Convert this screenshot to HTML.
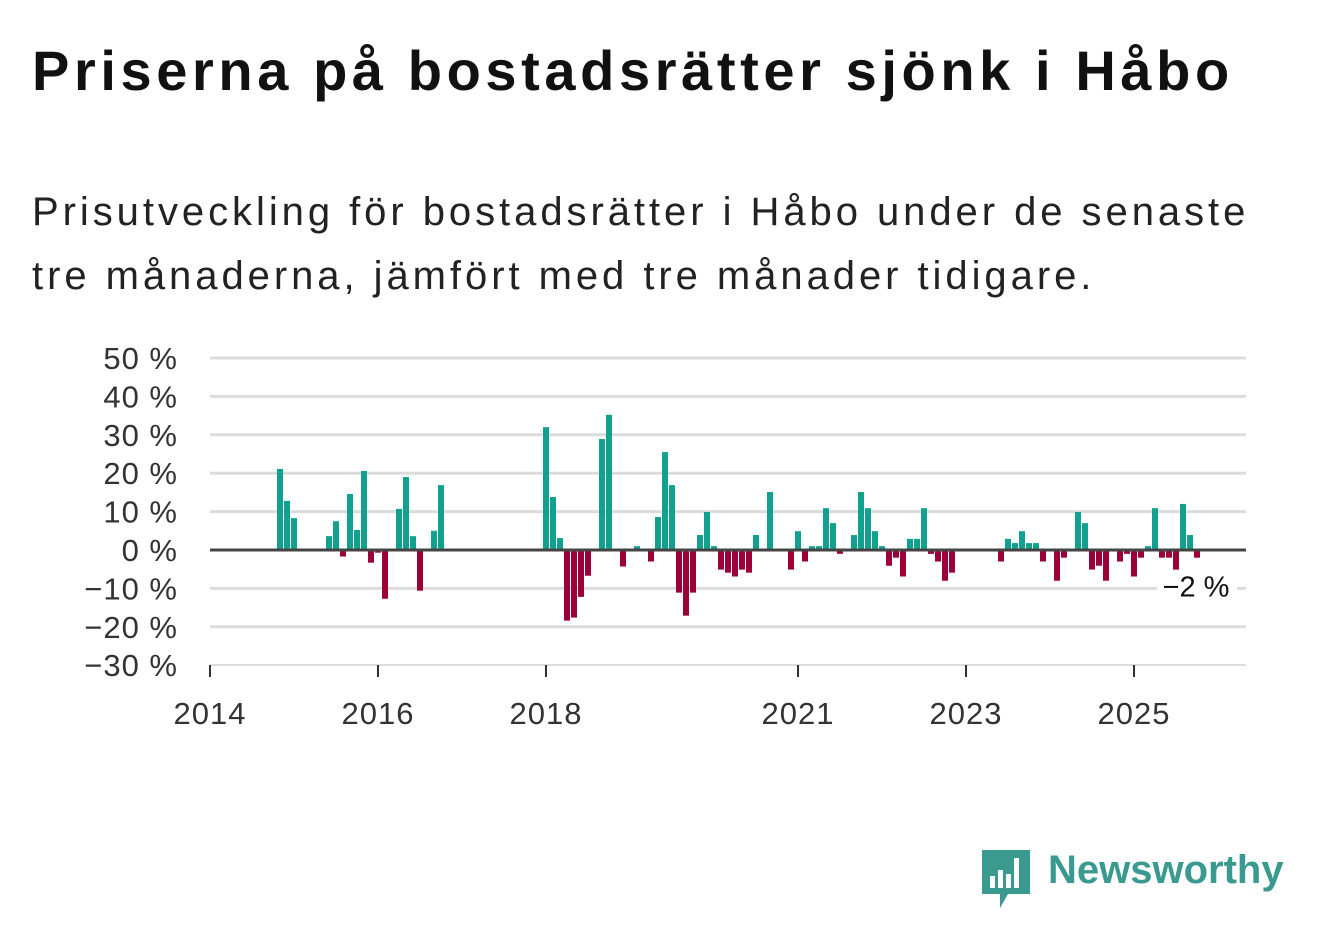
<!DOCTYPE html>
<html><head><meta charset="utf-8"><style>
body{margin:0;background:#fff;width:1322px;height:939px;overflow:hidden;font-family:"Liberation Sans","DejaVu Sans",sans-serif}
</style></head><body>
<div style="position:absolute;left:32px;top:38px;font-size:56px;font-weight:bold;color:#111;letter-spacing:4.6px;white-space:nowrap">Priserna på bostadsrätter sjönk i Håbo</div>
<div style="position:absolute;left:32px;top:180px;font-size:40px;line-height:64px;color:#222;letter-spacing:3.95px;white-space:nowrap">Prisutveckling för bostadsrätter i Håbo under de senaste<br>tre månaderna, jämfört med tre månader tidigare.</div>
<svg id="chart" width="1322" height="939" style="position:absolute;left:0;top:0"></svg>
<div style="position:absolute;left:982px;top:850px;">
<svg width="48" height="58"><path d="M0 0H48V44H26L18 58V44H0Z" fill="#3a9a8f"/><rect x="8" y="26" width="5" height="12" fill="#fff"/><rect x="16" y="20" width="5" height="18" fill="#fff"/><rect x="24" y="24" width="5" height="14" fill="#fff"/><rect x="32" y="8" width="5" height="30" fill="#fff"/></svg>
</div>
<div style="position:absolute;left:1048px;top:848px;font-size:40px;font-weight:bold;color:#3a9a8f">Newsworthy</div>
<script>
const yTicks=[50,40,30,20,10,0,-10,-20,-30];
const yTickLabels=["50 %","40 %","30 %","20 %","10 %","0 %","−10 %","−20 %","−30 %"];
const xTickYears=[2014,2016,2018,2021,2023,2025];
const changes={10:21.1,11:12.8,12:8.3,17:3.6,18:7.5,19:-1.7,20:14.6,21:5.2,22:20.6,23:-3.3,24:-0.7,25:-12.7,27:10.7,28:19,29:3.6,30:-10.6,32:5,33:16.9,
48:32,49:13.8,50:3.1,51:-18.4,52:-17.6,53:-12.2,54:-6.7,56:28.9,57:35.2,59:-4.3,61:1,63:-3,64:8.6,65:25.5,66:16.9,67:-11.1,68:-17.1,69:-11.1,70:3.9,71:9.9,72:1,73:-5.1,74:-5.9,75:-6.9,76:-5.1,77:-5.9,78:3.9,80:15.1,
83:-5.1,84:4.9,85:-3,86:1,87:1,88:10.9,89:7,90:-1,92:3.9,93:15.1,94:10.9,95:4.9,96:1,97:-4.1,98:-2,99:-6.9,100:2.9,101:2.9,102:10.9,103:-1,104:-3,105:-8,106:-5.9,
113:-3,114:2.9,115:1.8,116:4.9,117:1.8,118:1.8,119:-3,121:-8,122:-2,124:9.9,125:7,126:-5.1,127:-4.1,128:-8,130:-3,131:-1,132:-6.9,133:-2,134:1,135:10.9,136:-2,137:-2,138:-5.6,139:12,140:3.9,141:-2};
const monthCount=142;
const lastLabel="−2 %";
const NS="http://www.w3.org/2000/svg";
const svg=document.getElementById('chart');
const x0=210,x1=1246;
const yScale=v=>550-v*3.84;
const xMonth=i=>x0+i*7;
const xYear=y=>x0+(y-2014)*84;
function mk(t,a){const e=document.createElementNS(NS,t);for(const k in a)e.setAttribute(k,a[k]);svg.appendChild(e);return e;}
yTicks.forEach((v,i)=>{
 if(v!==0&&v!==-30){const g=mk('line',{x1:x0,x2:x1,y1:yScale(v),y2:yScale(v),stroke:'#dcdcdc','stroke-width':3});
 
 }
 const t=mk('text',{x:178,y:yScale(v)+11,'text-anchor':'end','font-size':31,fill:'#333','letter-spacing':1});
 t.textContent=yTickLabels[i];
 
 
});
const ax=mk('line',{x1:x0,x2:x1,y1:665,y2:665,stroke:'#ddd','stroke-width':2});


xTickYears.forEach(y=>{
 const tk=mk('line',{x1:xYear(y),x2:xYear(y),y1:665,y2:677,stroke:'#333','stroke-width':2});
 
 
 const t=mk('text',{x:xYear(y),y:724,'text-anchor':'middle','font-size':31,fill:'#333','letter-spacing':1});
 t.textContent=y;
 
 
});
for(let i=0;i<monthCount;i++){
 const v=changes[i];if(!v)continue;
 const y=yScale(Math.max(v,0)),h=Math.abs(v)*3.84;
 const r=mk('rect',{x:xMonth(i)-3,y:y,width:6,height:h,fill:v>0?'#12a08f':'#9b0038'});
 
 
}
const zl=mk('line',{x1:x0,x2:x1,y1:550,y2:550,stroke:'#444','stroke-width':3});


const lv=changes[monthCount-1];
const bg=mk('rect',{x:xMonth(monthCount-1)-40,y:yScale(lv)+12,width:80,height:34,fill:'#fff'});


const lt=mk('text',{x:xMonth(monthCount-1)-1,y:yScale(lv)+39,'font-size':29,fill:'#111','text-anchor':'middle'});
lt.textContent=lastLabel;


</script>
</body></html>
